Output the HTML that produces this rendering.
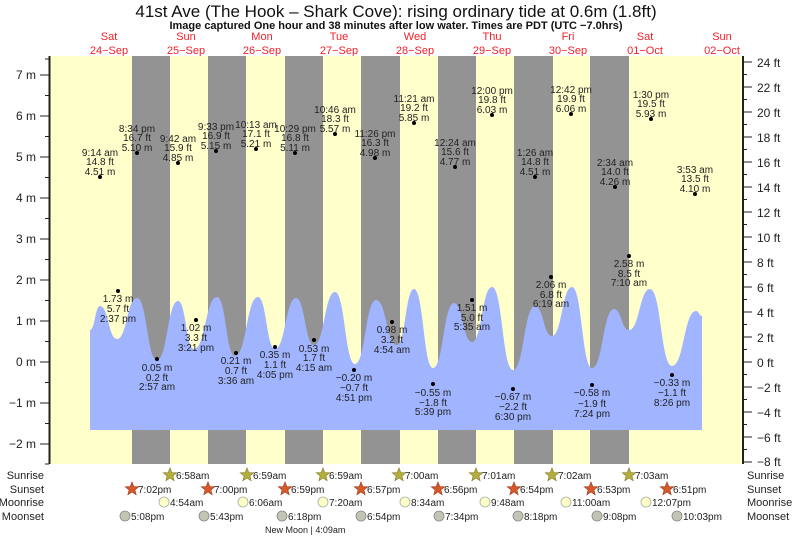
<!DOCTYPE html>
<html><head><meta charset="utf-8"><style>
body{margin:0;background:#fff;}
svg{display:block;font-family:"Liberation Sans",sans-serif;}
</style></head><body>
<svg width="793" height="537" viewBox="0 0 793 537" xmlns="http://www.w3.org/2000/svg">
<rect x="0" y="0" width="793" height="537" fill="#fff"/>
<text x="396" y="17" font-size="17" text-anchor="middle" fill="#111">41st Ave (The Hook – Shark Cove): rising  ordinary tide at 0.6m (1.8ft)</text>
<text x="396" y="29" font-size="11" font-weight="bold" text-anchor="middle" fill="#111">Image captured One hour and 38 minutes after low water. Times are PDT (UTC −7.0hrs)</text>
<g font-size="11" fill="#f0202a" text-anchor="middle">
<text x="109" y="40">Sat</text><text x="109" y="54">24−Sep</text>
<text x="186" y="40">Sun</text><text x="186" y="54">25−Sep</text>
<text x="262" y="40">Mon</text><text x="262" y="54">26−Sep</text>
<text x="339" y="40">Tue</text><text x="339" y="54">27−Sep</text>
<text x="415" y="40">Wed</text><text x="415" y="54">28−Sep</text>
<text x="492" y="40">Thu</text><text x="492" y="54">29−Sep</text>
<text x="568" y="40">Fri</text><text x="568" y="54">30−Sep</text>
<text x="645" y="40">Sat</text><text x="645" y="54">01−Oct</text>
<text x="722" y="40">Sun</text><text x="722" y="54">02−Oct</text>
</g>
<rect x="50" y="56" width="693" height="408" fill="#ffffcc"/>
<g fill="#939393">
<rect x="132" y="56" width="38" height="408"/>
<rect x="208" y="56" width="38" height="408"/>
<rect x="285" y="56" width="38" height="408"/>
<rect x="361" y="56" width="39" height="408"/>
<rect x="438" y="56" width="38" height="408"/>
<rect x="514" y="56" width="39" height="408"/>
<rect x="590" y="56" width="39" height="408"/>
</g>
<path fill="#a0b4ff" d="M90,430 L90,330 C95,330 95,306 100,306 C108.5,306 108.5,339 117,339 C127,339 127,298 137,298 C147,298 147,360 157,360 C167.5,360 167.5,301 178,301 C186,301 186,349 194,349 C205.5,349 205.5,297 217,297 C226,297 226,356 235,356 C246.5,356 246.5,297 258,297 C266.5,297 266.5,349 275,349 C285.5,349 285.5,298 296,298 C305,298 305,345 314,345 C324.5,345 324.5,292 335,292 C345,292 345,364 355,364 C365.5,364 365.5,300 376,300 C386.5,300 386.5,345 397,345 C405.5,345 405.5,289 414,289 C423.5,289 423.5,368 433,368 C443.5,368 443.5,303 454,303 C463,303 463,342 472,342 C482,342 482,287 492,287 C502.5,287 502.5,370 513,370 C524,370 524,306 535,306 C543.5,306 543.5,336 552,336 C562,336 562,287 572,287 C582,287 582,368 592,368 C603,368 603,309 614,309 C621.5,309 621.5,330 629,330 C639.5,330 639.5,289 650,289 C661,289 661,366 672,366 C684,366 684,311 696,311 C699,311 699,316 702,316 L702,430 Z"/>
<line x1="49.5" y1="56" x2="49.5" y2="464" stroke="#222" stroke-width="2"/>
<line x1="743" y1="56" x2="743" y2="464" stroke="#222" stroke-width="2"/>
<g stroke="#222" stroke-width="1">
<line x1="40" y1="75" x2="49" y2="75"/><line x1="40" y1="116" x2="49" y2="116"/><line x1="40" y1="157" x2="49" y2="157"/><line x1="40" y1="198" x2="49" y2="198"/><line x1="40" y1="239" x2="49" y2="239"/><line x1="40" y1="280" x2="49" y2="280"/><line x1="40" y1="321" x2="49" y2="321"/><line x1="40" y1="362" x2="49" y2="362"/><line x1="40" y1="403" x2="49" y2="403"/><line x1="40" y1="444" x2="49" y2="444"/>
<line x1="45" y1="95.5" x2="49" y2="95.5"/><line x1="45" y1="136.5" x2="49" y2="136.5"/><line x1="45" y1="177.5" x2="49" y2="177.5"/><line x1="45" y1="218.5" x2="49" y2="218.5"/><line x1="45" y1="259.5" x2="49" y2="259.5"/><line x1="45" y1="300.5" x2="49" y2="300.5"/><line x1="45" y1="341.5" x2="49" y2="341.5"/><line x1="45" y1="382.5" x2="49" y2="382.5"/><line x1="45" y1="423.5" x2="49" y2="423.5"/><line x1="45" y1="464" x2="49" y2="464"/><line x1="45" y1="59" x2="49" y2="59"/>
</g>
<g font-size="12" fill="#222" text-anchor="end">
<text x="36" y="79">7 m</text><text x="36" y="120">6 m</text><text x="36" y="161">5 m</text><text x="36" y="202">4 m</text><text x="36" y="243">3 m</text><text x="36" y="284">2 m</text><text x="36" y="325">1 m</text><text x="36" y="366">0 m</text><text x="36" y="407">−1 m</text><text x="36" y="448">−2 m</text>
</g>
<g stroke="#222" stroke-width="1">
<line x1="743" y1="62" x2="752" y2="62"/><line x1="743" y1="87" x2="752" y2="87"/><line x1="743" y1="112" x2="752" y2="112"/><line x1="743" y1="137" x2="752" y2="137"/><line x1="743" y1="162" x2="752" y2="162"/><line x1="743" y1="187" x2="752" y2="187"/><line x1="743" y1="212" x2="752" y2="212"/><line x1="743" y1="237" x2="752" y2="237"/><line x1="743" y1="262" x2="752" y2="262"/><line x1="743" y1="287" x2="752" y2="287"/><line x1="743" y1="312" x2="752" y2="312"/><line x1="743" y1="337" x2="752" y2="337"/><line x1="743" y1="362" x2="752" y2="362"/><line x1="743" y1="387" x2="752" y2="387"/><line x1="743" y1="412" x2="752" y2="412"/><line x1="743" y1="437" x2="752" y2="437"/><line x1="743" y1="462" x2="752" y2="462"/>
<line x1="743" y1="74.5" x2="747" y2="74.5"/><line x1="743" y1="99.5" x2="747" y2="99.5"/><line x1="743" y1="124.5" x2="747" y2="124.5"/><line x1="743" y1="149.5" x2="747" y2="149.5"/><line x1="743" y1="174.5" x2="747" y2="174.5"/><line x1="743" y1="199.5" x2="747" y2="199.5"/><line x1="743" y1="224.5" x2="747" y2="224.5"/><line x1="743" y1="249.5" x2="747" y2="249.5"/><line x1="743" y1="274.5" x2="747" y2="274.5"/><line x1="743" y1="299.5" x2="747" y2="299.5"/><line x1="743" y1="324.5" x2="747" y2="324.5"/><line x1="743" y1="349.5" x2="747" y2="349.5"/><line x1="743" y1="374.5" x2="747" y2="374.5"/><line x1="743" y1="399.5" x2="747" y2="399.5"/><line x1="743" y1="424.5" x2="747" y2="424.5"/><line x1="743" y1="449.5" x2="747" y2="449.5"/>
</g>
<g font-size="12" fill="#222">
<text x="757" y="67">24 ft</text><text x="757" y="92">22 ft</text><text x="757" y="117">20 ft</text><text x="757" y="142">18 ft</text><text x="757" y="167">16 ft</text><text x="757" y="192">14 ft</text><text x="757" y="217">12 ft</text><text x="757" y="242">10 ft</text><text x="757" y="267">8 ft</text><text x="757" y="292">6 ft</text><text x="757" y="317">4 ft</text><text x="757" y="342">2 ft</text><text x="757" y="367">0 ft</text><text x="757" y="392">−2 ft</text><text x="757" y="417">−4 ft</text><text x="757" y="442">−6 ft</text><text x="757" y="466">−8 ft</text>
</g>
<g fill="#000">
<circle cx="100" cy="177" r="2"/><circle cx="137" cy="153" r="2"/><circle cx="178" cy="163" r="2"/><circle cx="216" cy="151" r="2"/><circle cx="256" cy="149" r="2"/><circle cx="295" cy="153" r="2"/><circle cx="335" cy="134" r="2"/><circle cx="375" cy="158" r="2"/><circle cx="414" cy="123" r="2"/><circle cx="455" cy="167" r="2"/><circle cx="492" cy="115" r="2"/><circle cx="535" cy="177" r="2"/><circle cx="571" cy="114" r="2"/><circle cx="615" cy="187" r="2"/><circle cx="651" cy="119" r="2"/><circle cx="695" cy="194" r="2"/>
<circle cx="118" cy="291" r="2"/><circle cx="157" cy="359" r="2"/><circle cx="196" cy="320" r="2"/><circle cx="236" cy="353" r="2"/><circle cx="275" cy="347" r="2"/><circle cx="314" cy="340" r="2"/><circle cx="354" cy="370" r="2"/><circle cx="392" cy="322" r="2"/><circle cx="433" cy="384" r="2"/><circle cx="472" cy="300" r="2"/><circle cx="513" cy="389" r="2"/><circle cx="551" cy="277" r="2"/><circle cx="592" cy="385" r="2"/><circle cx="629" cy="256" r="2"/><circle cx="672" cy="375" r="2"/>
</g>
<g font-size="10" fill="#222" text-anchor="middle">
<text x="100" y="156">9:14 am</text><text x="100" y="165">14.8 ft</text><text x="100" y="175">4.51 m</text>
<text x="137" y="132">8:34 pm</text><text x="137" y="141">16.7 ft</text><text x="137" y="151">5.10 m</text>
<text x="178" y="142">9:42 am</text><text x="178" y="151">15.9 ft</text><text x="178" y="161">4.85 m</text>
<text x="216" y="130">9:33 pm</text><text x="216" y="139">16.9 ft</text><text x="216" y="149">5.15 m</text>
<text x="256" y="128">10:13 am</text><text x="256" y="137">17.1 ft</text><text x="256" y="147">5.21 m</text>
<text x="295" y="132">10:29 pm</text><text x="295" y="141">16.8 ft</text><text x="295" y="151">5.11 m</text>
<text x="335" y="113">10:46 am</text><text x="335" y="122">18.3 ft</text><text x="335" y="132">5.57 m</text>
<text x="375" y="137">11:26 pm</text><text x="375" y="146">16.3 ft</text><text x="375" y="156">4.98 m</text>
<text x="414" y="102">11:21 am</text><text x="414" y="111">19.2 ft</text><text x="414" y="121">5.85 m</text>
<text x="455" y="146">12:24 am</text><text x="455" y="155">15.6 ft</text><text x="455" y="165">4.77 m</text>
<text x="492" y="94">12:00 pm</text><text x="492" y="103">19.8 ft</text><text x="492" y="113">6.03 m</text>
<text x="535" y="156">1:26 am</text><text x="535" y="165">14.8 ft</text><text x="535" y="175">4.51 m</text>
<text x="571" y="93">12:42 pm</text><text x="571" y="102">19.9 ft</text><text x="571" y="112">6.06 m</text>
<text x="615" y="166">2:34 am</text><text x="615" y="175">14.0 ft</text><text x="615" y="185">4.26 m</text>
<text x="651" y="98">1:30 pm</text><text x="651" y="107">19.5 ft</text><text x="651" y="117">5.93 m</text>
<text x="695" y="173">3:53 am</text><text x="695" y="182">13.5 ft</text><text x="695" y="192">4.10 m</text>
<text x="118" y="302">1.73 m</text><text x="118" y="312">5.7 ft</text><text x="118" y="322">2:37 pm</text>
<text x="157" y="371">0.05 m</text><text x="157" y="381">0.2 ft</text><text x="157" y="390">2:57 am</text>
<text x="196" y="331">1.02 m</text><text x="196" y="341">3.3 ft</text><text x="196" y="351">3:21 pm</text>
<text x="236" y="364">0.21 m</text><text x="236" y="374">0.7 ft</text><text x="236" y="384">3:36 am</text>
<text x="275" y="358">0.35 m</text><text x="275" y="368">1.1 ft</text><text x="275" y="378">4:05 pm</text>
<text x="314" y="352">0.53 m</text><text x="314" y="361">1.7 ft</text><text x="314" y="371">4:15 am</text>
<text x="354" y="381">−0.20 m</text><text x="354" y="391">−0.7 ft</text><text x="354" y="401">4:51 pm</text>
<text x="392" y="333">0.98 m</text><text x="392" y="343">3.2 ft</text><text x="392" y="353">4:54 am</text>
<text x="433" y="396">−0.55 m</text><text x="433" y="406">−1.8 ft</text><text x="433" y="415">5:39 pm</text>
<text x="472" y="311">1.51 m</text><text x="472" y="321">5.0 ft</text><text x="472" y="330">5:35 am</text>
<text x="513" y="400">−0.67 m</text><text x="513" y="410">−2.2 ft</text><text x="513" y="420">6:30 pm</text>
<text x="551" y="288">2.06 m</text><text x="551" y="298">6.8 ft</text><text x="551" y="307">6:19 am</text>
<text x="592" y="396">−0.58 m</text><text x="592" y="407">−1.9 ft</text><text x="592" y="417">7:24 pm</text>
<text x="629" y="267">2.58 m</text><text x="629" y="277">8.5 ft</text><text x="629" y="286">7:10 am</text>
<text x="672" y="386">−0.33 m</text><text x="672" y="396">−1.1 ft</text><text x="672" y="406">8:26 pm</text>
</g>
<defs>
<polygon id="st" points="0,-7 1.8,-2.4 6.7,-2.2 2.9,0.9 4.1,5.7 0,3 -4.1,5.7 -2.9,0.9 -6.7,-2.2 -1.8,-2.4"/>
</defs>
<g font-size="11" fill="#222">
<text x="44" y="479" text-anchor="end">Sunrise</text><text x="44" y="493" text-anchor="end">Sunset</text><text x="44" y="506" text-anchor="end">Moonrise</text><text x="44" y="520" text-anchor="end">Moonset</text>
<text x="747" y="479">Sunrise</text><text x="747" y="493">Sunset</text><text x="747" y="506">Moonrise</text><text x="747" y="520">Moonset</text>
</g>
<g fill="#b5ad3c" stroke="#8a8430" stroke-width="0.7">
<use href="#st" x="170" y="475"/><use href="#st" x="247" y="475"/><use href="#st" x="323" y="475"/><use href="#st" x="399" y="475"/><use href="#st" x="476" y="475"/><use href="#st" x="552" y="475"/><use href="#st" x="629" y="475"/>
</g>
<g fill="#d8582a" stroke="#a04020" stroke-width="0.7">
<use href="#st" x="132" y="489"/><use href="#st" x="208" y="489"/><use href="#st" x="285" y="489"/><use href="#st" x="361" y="489"/><use href="#st" x="438" y="489"/><use href="#st" x="514" y="489"/><use href="#st" x="591" y="489"/><use href="#st" x="667" y="489"/>
</g>
<g fill="#ffffc8" stroke="#aaa" stroke-width="0.8">
<circle cx="164" cy="502" r="5"/><circle cx="243" cy="502" r="5"/><circle cx="323" cy="502" r="5"/><circle cx="405" cy="502" r="5"/><circle cx="485" cy="502" r="5"/><circle cx="566" cy="502" r="5"/><circle cx="646" cy="502" r="5"/>
</g>
<g fill="#c4c4b4" stroke="#888" stroke-width="0.8">
<circle cx="125" cy="516" r="5"/><circle cx="204" cy="516" r="5"/><circle cx="282" cy="516" r="5"/><circle cx="361" cy="516" r="5"/><circle cx="439" cy="516" r="5"/><circle cx="518" cy="516" r="5"/><circle cx="597" cy="516" r="5"/><circle cx="677" cy="516" r="5"/>
</g>
<g font-size="10" fill="#222">
<text x="176" y="479">6:58am</text><text x="253" y="479">6:59am</text><text x="329" y="479">6:59am</text><text x="405" y="479">7:00am</text><text x="482" y="479">7:01am</text><text x="558" y="479">7:02am</text><text x="635" y="479">7:03am</text>
<text x="138" y="493">7:02pm</text><text x="214" y="493">7:00pm</text><text x="291" y="493">6:59pm</text><text x="367" y="493">6:57pm</text><text x="444" y="493">6:56pm</text><text x="520" y="493">6:54pm</text><text x="597" y="493">6:53pm</text><text x="673" y="493">6:51pm</text>
<text x="170" y="506">4:54am</text><text x="249" y="506">6:06am</text><text x="329" y="506">7:20am</text><text x="411" y="506">8:34am</text><text x="491" y="506">9:48am</text><text x="572" y="506">11:00am</text><text x="652" y="506">12:07pm</text>
<text x="131" y="520">5:08pm</text><text x="210" y="520">5:43pm</text><text x="288" y="520">6:18pm</text><text x="367" y="520">6:54pm</text><text x="445" y="520">7:34pm</text><text x="524" y="520">8:18pm</text><text x="603" y="520">9:08pm</text><text x="683" y="520">10:03pm</text>
<text x="265" y="533" font-size="9">New Moon | 4:09am</text>
</g>
</svg>
</body></html>
